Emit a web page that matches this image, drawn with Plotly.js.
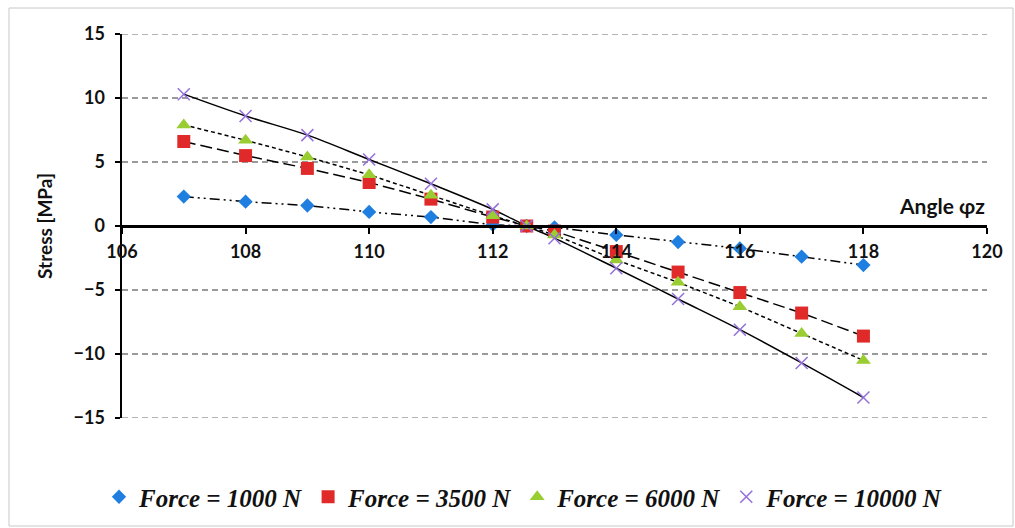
<!DOCTYPE html>
<html>
<head>
<meta charset="utf-8">
<script src="https://cdn.plot.ly/plotly-3.0.1.min.js"></script>
<style>html,body{margin:0;padding:0;background:#fff;}#chart{width:1015px;height:528px;}</style>
</head>
<body>
<div id="chart"></div>
<script>
const angles = [107, 108, 109, 110, 111, 112, 112.55, 113, 114, 115, 116, 117, 118];
const force1000 = [2.3, 1.9, 1.6, 1.1, 0.7, 0.1, 0, -0.1, -0.7, -1.25, -1.75, -2.4, -3.05];
const force3500 = [6.6, 5.5, 4.5, 3.4, 2.1, 0.7, 0, -0.4, -2.0, -3.6, -5.2, -6.8, -8.6];
const force6000 = [7.9, 6.7, 5.4, 4.0, 2.4, 0.8, 0, -0.7, -2.65, -4.4, -6.3, -8.4, -10.5];
const force10000 = [10.3, 8.6, 7.1, 5.2, 3.3, 1.3, 0, -0.95, -3.3, -5.7, -8.1, -10.7, -13.4];
const seriesNames = ['Force = 1000 N', 'Force = 3500 N', 'Force = 6000 N', 'Force = 10000 N'];
const yTicks = [-15, -10, -5, 0, 5, 10, 15];
const xTicks = [106, 108, 110, 112, 114, 116, 118, 120];

const seriesData = [force1000, force3500, force6000, force10000];
const colors = ['#1f7fe0', '#e02a2a', '#9acd32', '#9370db'];
const symbols = ['diamond', 'square', 'triangle-up', 'x-thin-open'];
const sizes = [11, 13, 13, 12];
const dashes = ['10px,4px,2px,4px,2px,4px', '12px,5px', '4px,3px', 'solid'];
const shapes = ['linear', 'linear', 'linear', 'spline'];

const traces = [];
seriesData.forEach((ys, i) => {
  traces.push({
    x: angles, y: ys, mode: 'lines', showlegend: false, hoverinfo: 'skip',
    line: {color: '#000', width: 1.5, dash: dashes[i], shape: shapes[i], smoothing: 1}
  });
});
seriesData.forEach((ys, i) => {
  traces.push({
    x: angles, y: ys, mode: 'markers', name: seriesNames[i],
    marker: {symbol: symbols[i], size: sizes[i], color: colors[i],
             line: {color: colors[i], width: i === 3 ? 1.5 : 0}}
  });
});

const pw = 865, ph = 384;
const gridShapes = [yTicks[0], yTicks[yTicks.length - 1]].map(v => ({
  type: 'line', xref: 'paper', yref: 'y', x0: 0, x1: 1, y0: v, y1: v,
  line: {color: '#9a9a9a', width: 1.5, dash: '6px,4px'}, layer: 'below'
}));

const layout = {
  width: 1015, height: 528,
  margin: {l: 122, r: 28, t: 34, b: 110, autoexpand: false},
  paper_bgcolor: '#fff', plot_bgcolor: '#fff',
  showlegend: true,
  xaxis: {
    range: [106, 120], tickvals: xTicks, anchor: 'free', position: 0.5,
    showline: true, linecolor: '#000', linewidth: 2.5,
    ticks: 'outside', ticklen: 6, tickwidth: 2, tickcolor: '#000',
    showgrid: false, zeroline: false, ticklabelstandoff: 3,
    tickfont: {family: 'Lato', size: 18, weight: 'bold', color: '#111'}
  },
  yaxis: {
    range: [-15, 15], tickvals: yTicks,
    showline: true, linecolor: '#000', linewidth: 2.5,
    ticks: 'outside', ticklen: 5, tickwidth: 2, tickcolor: '#000',
    showgrid: true, gridcolor: '#9a9a9a', gridwidth: 1.5, griddash: '6px,4px',
    zeroline: false, ticklabelstandoff: 6,
    tickfont: {family: 'Lato', size: 18, weight: 'bold', color: '#111'},
    title: {text: 'Stress [MPa]', font: {family: 'Lato', size: 19, weight: 'bold', color: '#111'}, standoff: 16}
  },
  legend: {
    orientation: 'h', x: (99 - 122) / pw, xanchor: 'left', y: (418 - 497) / ph, yanchor: 'middle',
    font: {family: 'Liberation Serif', size: 25, style: 'italic', weight: 'bold', color: '#111'},
    bgcolor: 'rgba(0,0,0,0)', itemwidth: 30
  },
  annotations: [{
    x: 120, y: 1.6, xref: 'x', yref: 'y', xanchor: 'right', yanchor: 'middle', showarrow: false,
    text: 'Angle φz', font: {family: 'Lato', size: 21, weight: 'bold', color: '#111'}
  }],
  shapes: gridShapes.concat([{
    type: 'rect', xref: 'paper', yref: 'paper',
    x0: (9 - 122) / pw, x1: (1013 - 122) / pw, y0: (418 - 526) / ph, y1: (418 - 8) / ph,
    line: {color: '#c8c8c8', width: 1}, fillcolor: 'rgba(0,0,0,0)', layer: 'below'
  }])
};

Plotly.newPlot('chart', traces, layout, {displayModeBar: false, staticPlot: true});
</script>
</body>
</html>
